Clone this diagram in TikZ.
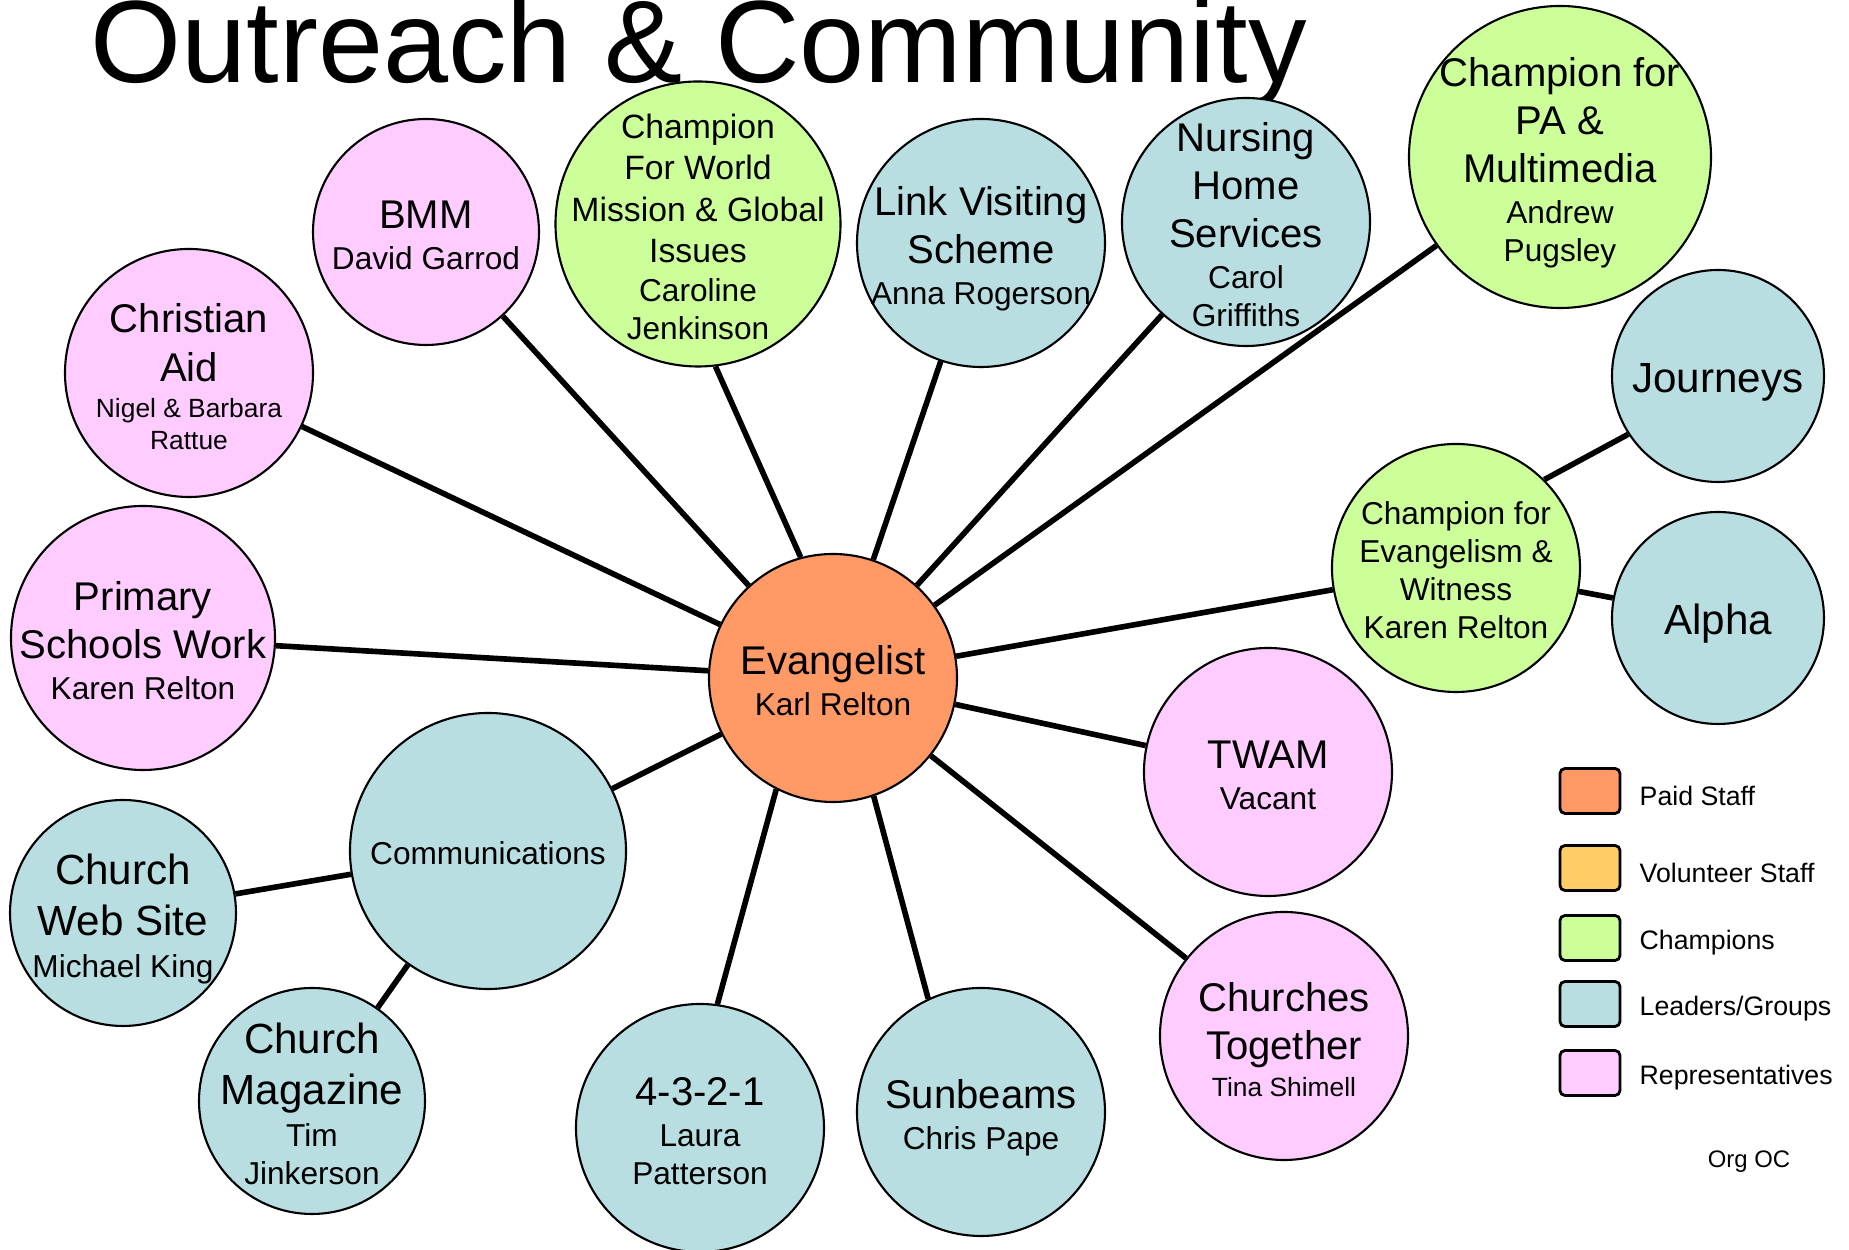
\documentclass[tikz,border=0pt]{standalone}
\usepackage{fontspec}
\setmainfont{Liberation Sans}
\usepackage{xcolor}
\usepackage{tikz}
\definecolor{ocPaid}{RGB}{255,153,102}
\definecolor{ocVolunteer}{RGB}{255,204,102}
\definecolor{ocChampion}{RGB}{204,255,153}
\definecolor{ocLeader}{RGB}{184,222,226}
\definecolor{ocRep}{RGB}{255,204,255}
\newcommand{\stackt}{\baselineskip=0pt\lineskip=0pt\lineskiplimit=0pt}
\newcommand{\bigt}{\fontsize{11.4pt}{13.7pt}\selectfont\strut}
\newcommand{\larget}{\fontsize{12pt}{14.4pt}\selectfont\strut}
\newcommand{\wmt}{\fontsize{9.6pt}{11.8pt}\selectfont\strut}
\newcommand{\midt}{\fontsize{9pt}{10.8pt}\selectfont\strut}
\newcommand{\smallt}{\fontsize{7.5pt}{9pt}\selectfont\strut}

\begin{document}
\begin{tikzpicture}
\tikzstyle{bubble}=[draw=black, line width=0.6pt, circle, inner sep=0pt, minimum size=2.48cm]
\tikzstyle{txt}=[align=center, inner sep=0pt, yshift=-0.06cm, font=\stackt]
\tikzstyle{paid}=[bubble, fill=ocPaid]
\tikzstyle{champ}=[bubble, fill=ocChampion]
\tikzstyle{lead}=[bubble, fill=ocLeader]
\tikzstyle{rep}=[bubble, fill=ocRep]
\tikzstyle{key}=[draw=black, line width=0.8pt, rounded corners=0.05cm, minimum width=0.6cm, minimum height=0.45cm, inner sep=0pt]
\tikzstyle{keytext}=[anchor=west, inner sep=0pt, yshift=-0.05cm, font=\fontsize{7.6pt}{9pt}\selectfont]
\tikzstyle{link}=[line width=1.6pt]

\useasboundingbox (0,0) rectangle (18.49,12.5);
\node[anchor=base west, inner sep=0pt, font=\fontsize{33.3pt}{40pt}\selectfont] (title) at (0.90,11.675) {Outreach \& Community};

% centre
\node[paid, label={[txt]center:{\bigt Evangelist\\\midt Karl Relton}}] (evan) at (8.33,5.72) {};

% ring
\node[rep, label={[txt]center:{\bigt Christian\\\bigt Aid\\\smallt Nigel \& Barbara\\\smallt Rattue}}] (chraid) at (1.89,8.77) {};
\node[rep, minimum size=2.26cm, label={[txt]center:{\bigt BMM\\\midt David Garrod}}] (bmm) at (4.26,10.18) {};
\node[champ, minimum size=2.85cm, label={[txt]center:{\wmt Champion\\\wmt For World\\\wmt Mission \& Global\\\wmt Issues\\\midt Caroline\\\midt Jenkinson}}] (mission) at (6.98,10.26) {};
\node[lead, label={[txt]center:{\bigt Link Visiting\\\bigt Scheme\\\midt Anna Rogerson}}] (visit) at (9.81,10.07) {};
\node[lead, label={[txt]center:{\bigt Nursing\\\bigt Home\\\bigt Services\\\midt Carol\\\midt Griffiths}}] (nursing) at (12.46,10.28) {};
\node[champ, minimum size=3.02cm, label={[txt]center:{\bigt Champion for\\\bigt PA \&\\\bigt Multimedia\\\midt Andrew\\\midt Pugsley}}] (media) at (15.60,10.93) {};
\node[champ, label={[txt]center:{\midt Champion for\\\midt Evangelism \&\\\midt Witness\\\midt Karen Relton}}] (witness) at (14.56,6.82) {};
\node[lead, minimum size=2.12cm, label={[txt]center:{\larget Journeys}}] (journeys) at (17.18,8.74) {};
\node[lead, minimum size=2.12cm, label={[txt]center:{\larget Alpha}}] (alpha) at (17.18,6.32) {};
\node[rep, label={[txt]center:{\bigt TWAM\\\midt Vacant}}] (twam) at (12.68,4.78) {};
\node[rep, label={[txt]center:{\bigt Churches\\\bigt Together\\\smallt Tina Shimell}}] (together) at (12.84,2.14) {};
\node[lead, label={[txt]center:{\bigt Sunbeams\\\midt Chris Pape}}] (sunbeams) at (9.81,1.38) {};
\node[lead, label={[txt]center:{\bigt 4-3-2-1\\\midt Laura\\\midt Patterson}}] (fourthree) at (7.00,1.22) {};
\node[lead, minimum size=2.76cm, label={[txt]center:{\midt Communications}}] (comms) at (4.88,3.99) {};
\node[lead, minimum size=2.26cm, label={[txt]center:{\larget Church\\\larget Web Site\\\midt Michael King}}] (website) at (1.23,3.37) {};
\node[lead, minimum size=2.26cm, label={[txt]center:{\larget Church\\\larget Magazine\\\midt Tim\\\midt Jinkerson}}] (magazine) at (3.12,1.49) {};
\node[rep, minimum size=2.64cm, label={[txt]center:{\bigt Primary\\\bigt Schools Work\\\midt Karen Relton}}] (schools) at (1.43,6.12) {};

% connectors
\foreach \n in {chraid,bmm,visit,nursing,media,witness,twam,together,comms,schools}
  \draw[link] (evan) -- (\n);
\draw[link] (evan.105) -- (mission.-83);
\draw[link] (evan.243) -- (fourthree.82);
\draw[link] (evan.-71) -- (sunbeams.115);
\draw[link] (witness.45) -- (journeys.213);
\draw[link] (witness) -- (alpha);
\draw[link] (comms) -- (website);
\draw[link] (comms) -- (magazine);

% key
\node[key, fill=ocPaid] (kpaid) at (15.90,4.59) {};
\node[key, fill=ocVolunteer] (kvol) at (15.90,3.82) {};
\node[key, fill=ocChampion] (kchamp) at (15.90,3.12) {};
\node[key, fill=ocLeader] (klead) at (15.90,2.46) {};
\node[key, fill=ocRep] (krep) at (15.90,1.77) {};
\node[keytext] (tpaid) at (16.39,4.59) {Paid Staff};
\node[keytext] (tvol) at (16.39,3.82) {Volunteer Staff};
\node[keytext] (tchamp) at (16.39,3.12) {Champions};
\node[keytext] (tlead) at (16.39,2.46) {Leaders/Groups};
\node[keytext] (trep) at (16.39,1.77) {Representatives};
\node[inner sep=0pt, font=\fontsize{6.8pt}{8pt}\selectfont] (orgoc) at (17.49,0.88) {Org OC};
\end{tikzpicture}
\end{document}
